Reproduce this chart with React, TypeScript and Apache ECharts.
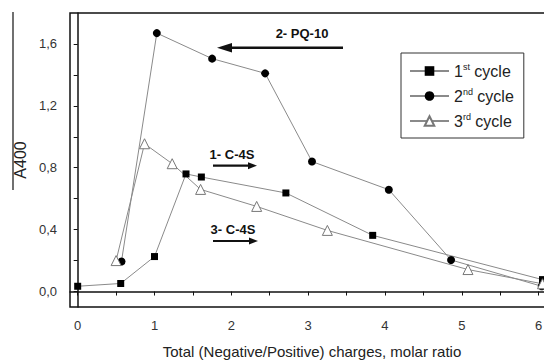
import React, { useEffect, useRef } from "react";
import * as echarts from "echarts";

const cycle1: [number, number][] = [
  [0, 0.034], [0.56, 0.052], [1.0, 0.226], [1.41, 0.76], [1.61, 0.74],
  [2.71, 0.637], [3.84, 0.363], [6.05, 0.077],
];
const cycle2: [number, number][] = [
  [0.57, 0.194], [1.03, 1.67], [1.75, 1.505], [2.44, 1.41], [3.05, 0.84],
  [4.05, 0.658], [4.86, 0.204], [6.04, 0.034],
];
const cycle3: [number, number][] = [
  [0.5, 0.2], [0.87, 0.955], [1.23, 0.826], [1.6, 0.66], [2.33, 0.55],
  [3.25, 0.395], [5.08, 0.142], [6.05, 0.05],
];
const xLabels = [0, 1, 2, 3, 4, 5, 6];
const xTicks = [0, 0.5, 1, 1.5, 2, 2.5, 3, 3.5, 4, 4.5, 5, 5.5, 6];
const yLabels = [0, 0.4, 0.8, 1.2, 1.6];
const yTicks = [0, 0.2, 0.4, 0.6, 0.8, 1.0, 1.2, 1.4, 1.6];
const legendNames = ["1st cycle", "2nd cycle", "3rd cycle"];
const annotations = ["2- PQ-10", "1- C-4S", "3- C-4S"];

const FONT = "Liberation Sans, Arial, sans-serif";
const LINE = "#8a8a8a";
const TXT = "#222";

export default function App() {
  const ref = useRef<HTMLDivElement>(null);
  useEffect(() => {
    if (!ref.current) return;
    const chart = echarts.init(ref.current, null, { renderer: "svg" });
    const fmt = (v: number) => v.toFixed(1).replace(".", ",");
    const arrowR = (x1: number, x2: number, y: number) => [
      { type: "line", shape: { x1, y1: y, x2: x2 - 6, y2: y }, style: { stroke: "#111", lineWidth: 2.2 } },
      { type: "polygon", shape: { points: [[x2, y], [x2 - 9, y - 3.5], [x2 - 9, y + 3.5]] }, style: { fill: "#111" } },
    ];
    chart.setOption({
      animation: false,
      textStyle: { fontFamily: FONT },
      grid: {
        left: 70, width: 484, top: 13, height: 294,
        outerBoundsMode: "none", containLabel: false,
        show: true, borderColor: "#111", borderWidth: 1.5,
      },
      xAxis: {
        type: "value", min: -0.1, max: 6.2,
        name: "Total (Negative/Positive) charges, molar ratio",
        nameLocation: "middle", nameGap: 37,
        nameTextStyle: { fontSize: 15, color: TXT, fontFamily: FONT },
        axisLine: { show: true, lineStyle: { color: "#111", width: 1.5 } },
        axisTick: { show: true, length: 4, lineStyle: { color: "#111" }, customValues: xTicks },
        axisLabel: { customValues: xLabels, fontSize: 13, color: "#333", margin: 12, fontFamily: FONT },
        splitLine: { show: false },
      },
      yAxis: {
        type: "value", min: -0.1, max: 1.8,
        name: "A400", nameLocation: "middle", nameGap: 42,
        nameTextStyle: { fontSize: 16, color: TXT, fontFamily: FONT },
        axisLine: { show: true, lineStyle: { color: "#111", width: 1.5 } },
        axisTick: { show: true, length: 4, lineStyle: { color: "#111" }, customValues: yTicks },
        axisLabel: { customValues: yLabels, fontSize: 13, color: "#333", margin: 13, formatter: fmt, fontFamily: FONT },
        splitLine: { show: false },
      },
      legend: {
        orient: "vertical", left: 401, top: 53,
        padding: [9, 10, 8, 8], itemGap: 7, itemWidth: 39, itemHeight: 12,
        borderColor: "#333", borderWidth: 1, backgroundColor: "#fff",
        data: legendNames,
        formatter: (n: string) => {
          const m = n.match(/^(\d)(st|nd|rd) (.*)$/);
          return m ? `${m[1]}{sup|${m[2]}} ${m[3]}` : n;
        },
        textStyle: {
          fontSize: 16, color: TXT, lineHeight: 18, fontFamily: FONT,
          rich: { sup: { fontSize: 9, color: TXT, padding: [0, 0, 9, 0], fontFamily: FONT } },
        },
      },
      series: [
        {
          name: legendNames[0], type: "line", data: cycle1, symbol: "rect", symbolSize: 7,
          lineStyle: { color: LINE, width: 1 }, itemStyle: { color: "#000" },
        },
        {
          name: legendNames[1], type: "line", data: cycle2, symbol: "circle", symbolSize: 8,
          lineStyle: { color: LINE, width: 1 }, itemStyle: { color: "#000" },
        },
        {
          name: legendNames[2], type: "line", data: cycle3, symbol: "triangle", symbolSize: 10,
          lineStyle: { color: LINE, width: 1 }, itemStyle: { color: "#fff", borderColor: "#777", borderWidth: 1 },
        },
      ],
      graphic: [
        { type: "line", shape: { x1: 13, y1: 12, x2: 13, y2: 190 }, style: { stroke: "#111", lineWidth: 1.2 } },
        { type: "text", x: 302, y: 33, style: { text: annotations[0], font: `bold 13px ${FONT}`, fill: "#111", align: "center", verticalAlign: "middle" } },
        { type: "line", shape: { x1: 229, y1: 47.7, x2: 343, y2: 47.7 }, style: { stroke: "#111", lineWidth: 2.6 } },
        { type: "polygon", shape: { points: [[217, 47.7], [232, 43], [232, 52.4]] }, style: { fill: "#111" } },
        { type: "text", x: 232, y: 154, style: { text: annotations[1], font: `bold 13px ${FONT}`, fill: "#111", align: "center", verticalAlign: "middle" } },
        ...arrowR(213, 257, 165.7),
        { type: "text", x: 233, y: 229, style: { text: annotations[2], font: `bold 13px ${FONT}`, fill: "#111", align: "center", verticalAlign: "middle" } },
        ...arrowR(213, 258, 241),
      ],
    });
    return () => chart.dispose();
  }, []);
  return <div ref={ref} style={{ position: "absolute", left: 0, top: 0, width: 544, height: 361 }} />;
}
